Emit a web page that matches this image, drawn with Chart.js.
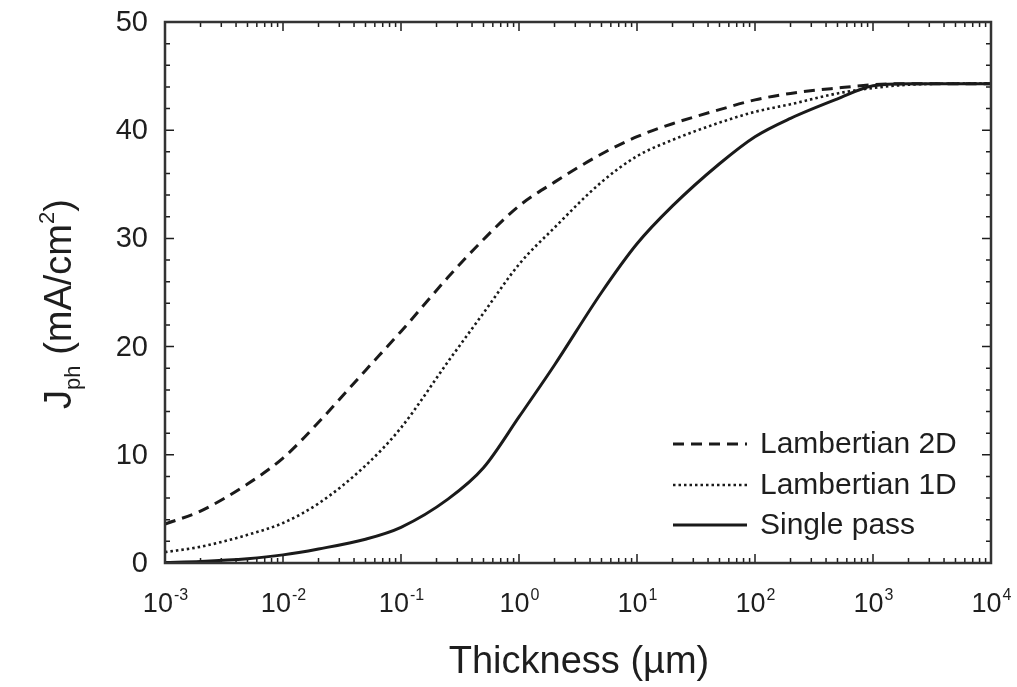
<!DOCTYPE html>
<html>
<head>
<meta charset="utf-8">
<title>Jph vs thickness</title>
<script src="https://cdn.jsdelivr.net/npm/chart.js@4/dist/chart.umd.min.js"></script>
<style>
  html, body { margin: 0; padding: 0; background: #fff; }
  #wrap { width: 1017px; height: 687px; }
</style>
</head>
<body>
<div id="wrap"><canvas id="chart" width="1017" height="687"></canvas></div>
<script>
// ---------- Data ----------

const thickness = [0.001, 0.002, 0.005, 0.01, 0.02, 0.05, 0.1, 0.25, 0.5, 1, 2, 5,
                   10, 20, 50, 100, 200, 500, 1000, 2000, 5000, 10000];

const lambertian2D = [3.6, 4.8, 7.3, 9.7, 13.0, 17.8, 21.4, 26.4, 29.9, 33.0, 35.2, 37.8,
                      39.4, 40.6, 41.9, 42.8, 43.4, 43.9, 44.2, 44.3, 44.3, 44.3];

const lambertian1D = [1.0, 1.5, 2.6, 3.7, 5.5, 9.0, 12.5, 18.6, 23.1, 27.6, 31.0, 35.2,
                      37.6, 39.1, 40.7, 41.7, 42.4, 43.4, 43.9, 44.2, 44.3, 44.3];

const singlePass = [0.05, 0.15, 0.4, 0.75, 1.3, 2.2, 3.3, 5.9, 8.8, 13.5, 18.3, 25.0,
                    29.5, 33.0, 36.9, 39.4, 41.1, 42.9, 44.1, 44.3, 44.3, 44.3];

const xTickExps = [-3, -2, -1, 0, 1, 2, 3, 4];
const yTicks = [0, 10, 20, 30, 40, 50];

const seriesNames = ['Lambertian 2D', 'Lambertian 1D', 'Single pass'];

// ---------- Helpers ----------

const INK = '#1e1e1e';
const FONT = '"Liberation Sans", Arial, Helvetica, sans-serif';

const toPoints = (ys) => thickness.map((x, i) => ({ x, y: ys[i] }));

function drawTicks(ctx, area, xs, ys) {
  ctx.save();
  ctx.strokeStyle = INK;
  ctx.lineWidth = 1.5;
  ctx.beginPath();
  xs.forEach(t => {
    ctx.moveTo(t.px, area.bottom); ctx.lineTo(t.px, area.bottom - t.len);
    ctx.moveTo(t.px, area.top);    ctx.lineTo(t.px, area.top + t.len);
  });
  ys.forEach(t => {
    ctx.moveTo(area.left, t.px);  ctx.lineTo(area.left + t.len, t.px);
    ctx.moveTo(area.right, t.px); ctx.lineTo(area.right - t.len, t.px);
  });
  ctx.stroke();
  ctx.restore();
}

// frame, inward ticks, tick labels, titles and legend
const decorations = {
  id: 'decorations',
  afterDraw(chart) {
    const { ctx, chartArea: area, scales } = chart;
    const xs = scales.x, ys = scales.y;

    // x ticks: decades + 2..9 minors
    const xt = [];
    for (let e = -3; e <= 4; e++) {
      xt.push({ px: xs.getPixelForValue(Math.pow(10, e)), len: 9 });
      if (e < 4) {
        for (let m = 2; m <= 9; m++) xt.push({ px: xs.getPixelForValue(m * Math.pow(10, e)), len: 5 });
      }
    }
    // y ticks: every 10 major, every 2 minor
    const yt = [];
    for (let v = 0; v <= 50; v += 2) {
      yt.push({ px: ys.getPixelForValue(v), len: v % 10 === 0 ? 9 : 5 });
    }
    drawTicks(ctx, area, xt, yt);

    // frame
    ctx.save();
    ctx.strokeStyle = '#333';
    ctx.lineWidth = 2.5;
    ctx.strokeRect(area.left, area.top, area.right - area.left, area.bottom - area.top);
    ctx.restore();

    ctx.save();
    ctx.fillStyle = INK;

    // y tick labels
    ctx.font = `29px ${FONT}`;
    ctx.textAlign = 'right';
    ctx.textBaseline = 'middle';
    yTicks.forEach(v => ctx.fillText(String(v), area.left - 17, ys.getPixelForValue(v) + 1));

    // x tick labels: 10^n
    ctx.textAlign = 'left';
    ctx.textBaseline = 'alphabetic';
    xTickExps.forEach(e => {
      const px = xs.getPixelForValue(Math.pow(10, e));
      ctx.font = `27px ${FONT}`;
      const wBase = ctx.measureText('10').width;
      ctx.font = `16px ${FONT}`;
      const sup = e < 0 ? '-' + Math.abs(e) : String(e);
      const wSup = ctx.measureText(sup).width;
      const x0 = px - (wBase + wSup) / 2;
      ctx.font = `27px ${FONT}`;
      ctx.fillText('10', x0, 612);
      ctx.font = `16px ${FONT}`;
      ctx.fillText(sup, x0 + wBase + 1, 600);
    });

    // x title
    ctx.font = `38px ${FONT}`;
    ctx.textAlign = 'center';
    ctx.fillText('Thickness (\u00b5m)', (area.left + area.right) / 2 + 1, 673);

    // y title: J_ph (mA/cm^2), rotated
    ctx.save();
    ctx.translate(71, 304);
    ctx.rotate(-Math.PI / 2);
    ctx.textAlign = 'left';
    const big = `38px ${FONT}`, small = `22px ${FONT}`;
    const parts = [
      { t: 'J', f: big, dy: 0 },
      { t: 'ph', f: small, dy: 9 },
      { t: ' (mA/cm', f: big, dy: 0 },
      { t: '2', f: small, dy: -17 },
      { t: ')', f: big, dy: 0 },
    ];
    let total = 0;
    parts.forEach(p => { ctx.font = p.f; p.w = ctx.measureText(p.t).width; total += p.w; });
    let cx = -total / 2;
    parts.forEach(p => { ctx.font = p.f; ctx.fillText(p.t, cx, p.dy); cx += p.w; });
    ctx.restore();

    // legend
    const rows = [444, 485, 525];
    chart.data.datasets.forEach((ds, i) => {
      ctx.save();
      ctx.strokeStyle = ds.borderColor;
      ctx.lineWidth = ds.borderWidth;
      ctx.setLineDash(ds.borderDash || []);
      ctx.beginPath();
      ctx.moveTo(673, rows[i]);
      ctx.lineTo(747, rows[i]);
      ctx.stroke();
      ctx.restore();
      ctx.font = `30px ${FONT}`;
      ctx.textAlign = 'left';
      ctx.textBaseline = 'middle';
      ctx.fillText(ds.label, 760, rows[i] + 1);
    });

    ctx.restore();
  },
};

// ---------- Chart ----------

const ctx = document.getElementById('chart').getContext('2d');

new Chart(ctx, {
  type: 'line',
  data: {
    datasets: [
      {
        label: seriesNames[0],
        data: toPoints(lambertian2D),
        borderColor: '#1a1a1a',
        borderWidth: 3,
        borderDash: [11, 7],
      },
      {
        label: seriesNames[1],
        data: toPoints(lambertian1D),
        borderColor: '#1a1a1a',
        borderWidth: 2.6,
        borderDash: [2.5, 3],
      },
      {
        label: seriesNames[2],
        data: toPoints(singlePass),
        borderColor: '#1a1a1a',
        borderWidth: 3,
        borderDash: [],
      },
    ],
  },
  options: {
    responsive: false,
    animation: false,
    events: [],
    layout: { padding: { left: 165, top: 22, right: 26, bottom: 124 } },
    elements: {
      point: { radius: 0 },
      line: { cubicInterpolationMode: 'monotone', fill: false },
    },
    plugins: {
      legend: { display: false },
      tooltip: { enabled: false },
    },
    scales: {
      x: {
        type: 'logarithmic',
        min: 1e-3,
        max: 1e4,
        ticks: { display: false },
        grid: { display: false },
        border: { display: false },
        afterFit: (s) => { s.height = 0; },
      },
      y: {
        type: 'linear',
        min: 0,
        max: 50,
        ticks: { display: false },
        grid: { display: false },
        border: { display: false },
        afterFit: (s) => { s.width = 0; },
      },
    },
  },
  plugins: [decorations],
});
</script>
</body>
</html>
